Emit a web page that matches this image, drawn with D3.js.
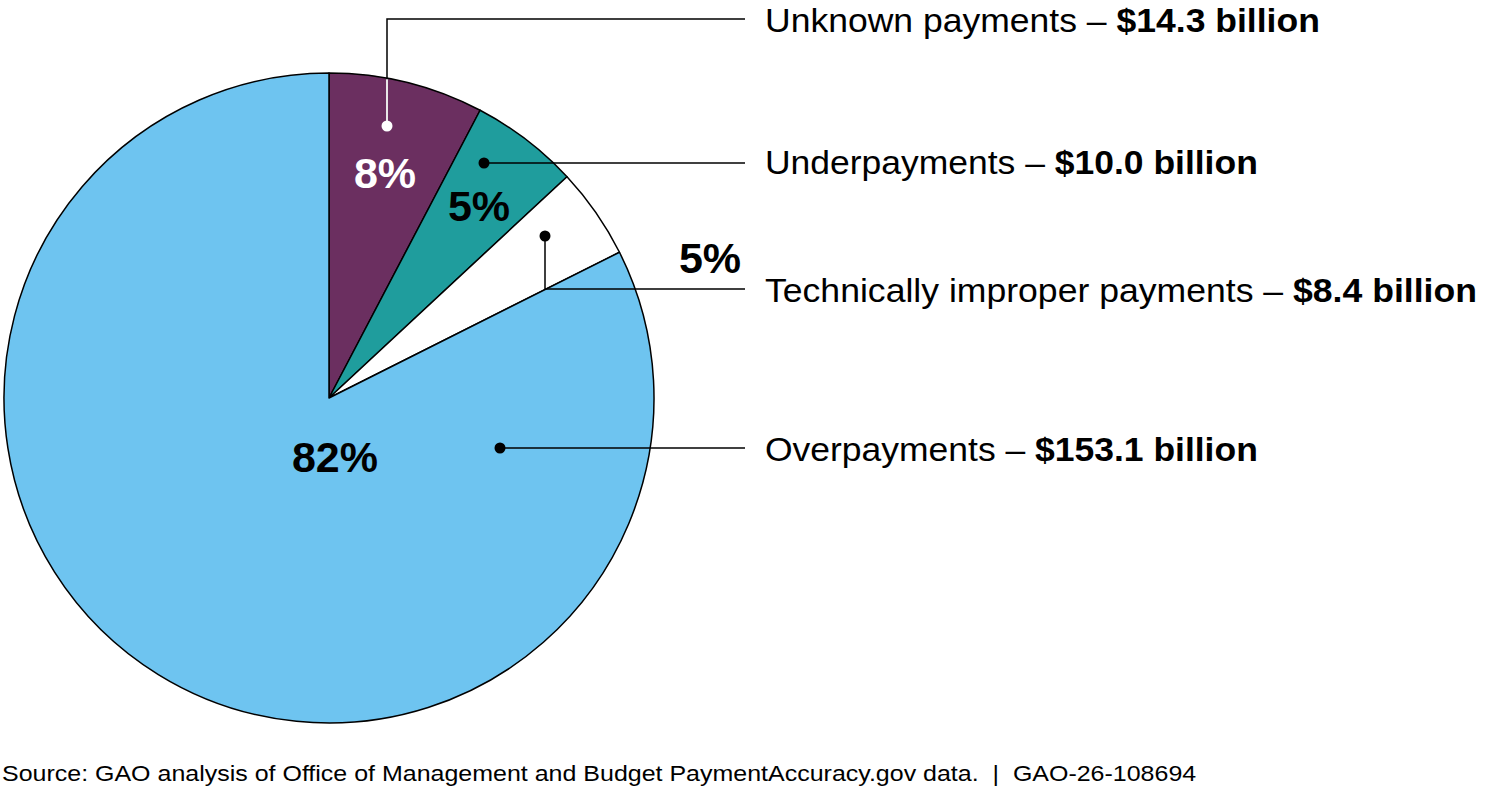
<!DOCTYPE html>
<html><head><meta charset="utf-8">
<script src="https://cdn.jsdelivr.net/npm/d3@7"></script>
<style>body{margin:0;background:#fff;} svg{display:block;font-family:"Liberation Sans",Arial,sans-serif;}</style>
</head><body>
<svg id="c" width="1501" height="791"></svg>
<script>
const categories = ["Unknown payments", "Underpayments", "Technically improper payments", "Overpayments"];
const values = [14.3, 10.0, 8.4, 153.1];
const valueLabels = ["$14.3 billion", "$10.0 billion", "$8.4 billion", "$153.1 billion"];
const pctLabels = ["8%", "5%", "5%", "82%"];
const colors = ["#6b2f60", "#1f9d9d", "#ffffff", "#6ec4f0"];
const source = "Source: GAO analysis of Office of Management and Budget PaymentAccuracy.gov data.  |  GAO-26-108694";

const svg = d3.select("#c");
const cx = 329, cy = 398, R = 325;
const g = svg.append("g").attr("transform", `translate(${cx},${cy})`);
const pie = d3.pie().sort(null).value(d => d)(values);
const arc = d3.arc().innerRadius(0).outerRadius(R);
g.selectAll("path.s").data(pie).join("path").attr("class","s")
  .attr("d", arc).attr("fill", (d,i)=>colors[i])
  .attr("stroke", "#000").attr("stroke-width", 1.5).attr("stroke-linejoin","round");

// layout (positions only)
const labelX = 765, lineEnd = 745;
const labelY = [32, 174, 302, 461];
const dots = [[387,126],[484,163],[545,236],[500,448]];
const pctPos = [[385,188],[479,221],[710,273],[335,472]];
const pctColor = ["#fff","#000","#000","#000"];
const labelW = [555, 493, 712, 493];

// leader lines
const leaders = [
  [[387,126],[387,19],[lineEnd,19]],
  [[484,163],[lineEnd,163]],
  [[545,236],[545,289],[lineEnd,289]],
  [[500,448],[lineEnd,448]]
];
const line = d3.line();
svg.selectAll("path.ld").data(leaders).join("path").attr("class","ld")
  .attr("d", line).attr("fill","none").attr("stroke","#000").attr("stroke-width",1.5);
// white part of first leader inside pie
const dx0 = 387 - cx;
const edgeY = cy - Math.sqrt(R*R - dx0*dx0);
svg.append("line").attr("x1",387).attr("x2",387).attr("y1",126).attr("y2",edgeY+1)
  .attr("stroke","#fff").attr("stroke-width",1.8);
svg.selectAll("circle.dot").data(dots).join("circle").attr("class","dot")
  .attr("cx",d=>d[0]).attr("cy",d=>d[1]).attr("r",5.5)
  .attr("fill",(d,i)=> i===0 ? "#fff" : "#000");

// percent labels
svg.selectAll("text.pct").data(pctLabels).join("text").attr("class","pct")
  .attr("x",(d,i)=>pctPos[i][0]).attr("y",(d,i)=>pctPos[i][1])
  .attr("text-anchor","middle").attr("font-weight","bold").attr("font-size",43)
  .attr("fill",(d,i)=>pctColor[i]).text(d=>d);

// category labels
categories.forEach((c,i)=>{
  const t = svg.append("text").attr("x",labelX).attr("y",labelY[i]).attr("font-size",34).attr("fill","#000");
  t.append("tspan").text(c + " \u2013 ");
  t.append("tspan").attr("font-weight","bold").text(valueLabels[i]);
  const w = t.node().getComputedTextLength();
  const s = labelW[i]/w;
  t.attr("transform",`translate(${labelX},0) scale(${s},1) translate(${-labelX},0)`);
});

const st = svg.append("text").attr("x",2).attr("y",781).attr("font-size",22).attr("fill","#000").attr("xml:space","preserve").text(source);
const sw = st.node().getComputedTextLength();
st.attr("transform",`translate(2,0) scale(${1195/sw},1) translate(-2,0)`);
</script>
</body></html>
